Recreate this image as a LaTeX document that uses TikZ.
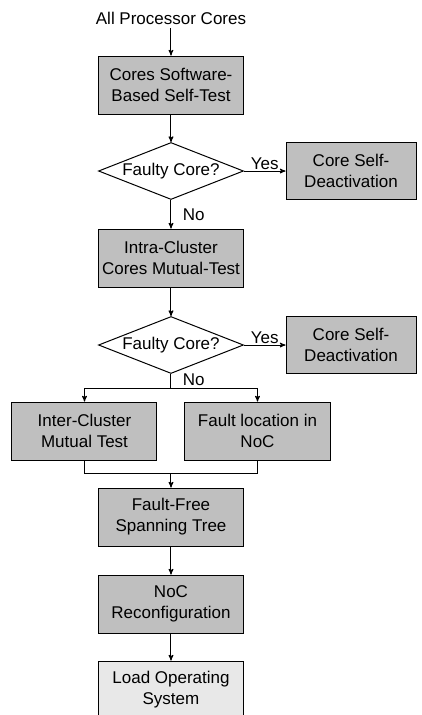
\documentclass[tikz,border=0pt]{standalone}
\usepackage{fontspec}
\setmainfont{Liberation Sans}
\usepackage{tikz}
\usetikzlibrary{arrows,shapes.geometric}
\definecolor{boxgray}{RGB}{191,191,191}
\definecolor{lightgray}{RGB}{232,232,232}

\begin{document}
\begin{tikzpicture}[x=1pt,y=1pt]
 \tikzstyle{every node}=[font=\fontsize{17}{21}\selectfont,align=center]
 \tikzstyle{box} = [draw,fill=boxgray,inner sep=0pt,minimum width=144,minimum height=58]
 \tikzstyle{side} = [box,minimum width=130,minimum height=57]
 \tikzstyle{dia} = [draw,fill=white,shape=diamond,aspect=2.54,inner sep=0pt,minimum width=145,minimum height=57]
 \tikzstyle{l} = [draw,-stealth',line width=1pt]
 \tikzstyle{b} = [draw,line width=1pt]
 \useasboundingbox (-171,18) rectangle (251,-697);
 \draw[line width=1pt]
 node (Input) {All Processor Cores}
 (Input) ++(0,-67) node[box] (SBST) {Cores Software-\\Based Self-Test}
 (SBST) ++(0,-86) node[dia] (Faulty1) {Faulty Core?}
 (Faulty1) ++(180,0) node[side] (Deact1) {Core Self-\\Deactivation}
 (Faulty1) ++(0,-87) node[box] (Intra) {Intra-Cluster\\Cores Mutual-Test}
 (Intra) ++(0,-87) node[dia] (Faulty2) {Faulty Core?}
 (Faulty2) ++(180,0) node[side] (Deact2) {Core Self-\\Deactivation}
 (Faulty2) ++(-86.5,-86) node[box,minimum width=145] (Inter) {Inter-Cluster\\Mutual Test}
 (Faulty2) ++(86.5,-86) node[box,minimum width=145] (FaultLoc) {Fault location in\\NoC}
 (Faulty2) ++(0,-172) node[box] (Spanning) {Fault-Free\\Spanning Tree}
 (Spanning) ++(0,-87) node[box] (Reconf) {NoC\\Reconfiguration}
 (Reconf) ++(0,-86) node[box,fill=lightgray] (Load) {Load Operating\\System}
 ;
 \coordinate (split) at ([yshift=-14]Faulty2.south);
 \coordinate (join) at ([yshift=14]Spanning.north);
 \path [l] (Input) -- (SBST);
 \path [l] (SBST) -- (Faulty1);
 \path [l] (Faulty1) -- node[above,inner sep=1pt] {Yes} (Deact1);
 \path [l] (Faulty1) -- node[right,xshift=8pt] {No} (Intra);
 \path [l] (Intra) -- (Faulty2);
 \path [l] (Faulty2) -- node[above,inner sep=1pt] {Yes} (Deact2);
 \path [b] (Faulty2) -- node[right,xshift=8pt,yshift=1pt] {No} (split);
 \path [l] (split) -| (Inter);
 \path [l] (split) -| (FaultLoc);
 \path [b] (Inter) |- (join);
 \path [b] (FaultLoc) |- (join);
 \path [l] (join) -- (Spanning);
 \path [l] (Spanning) -- (Reconf);
 \path [l] (Reconf) -- (Load);
\end{tikzpicture}
\end{document}
